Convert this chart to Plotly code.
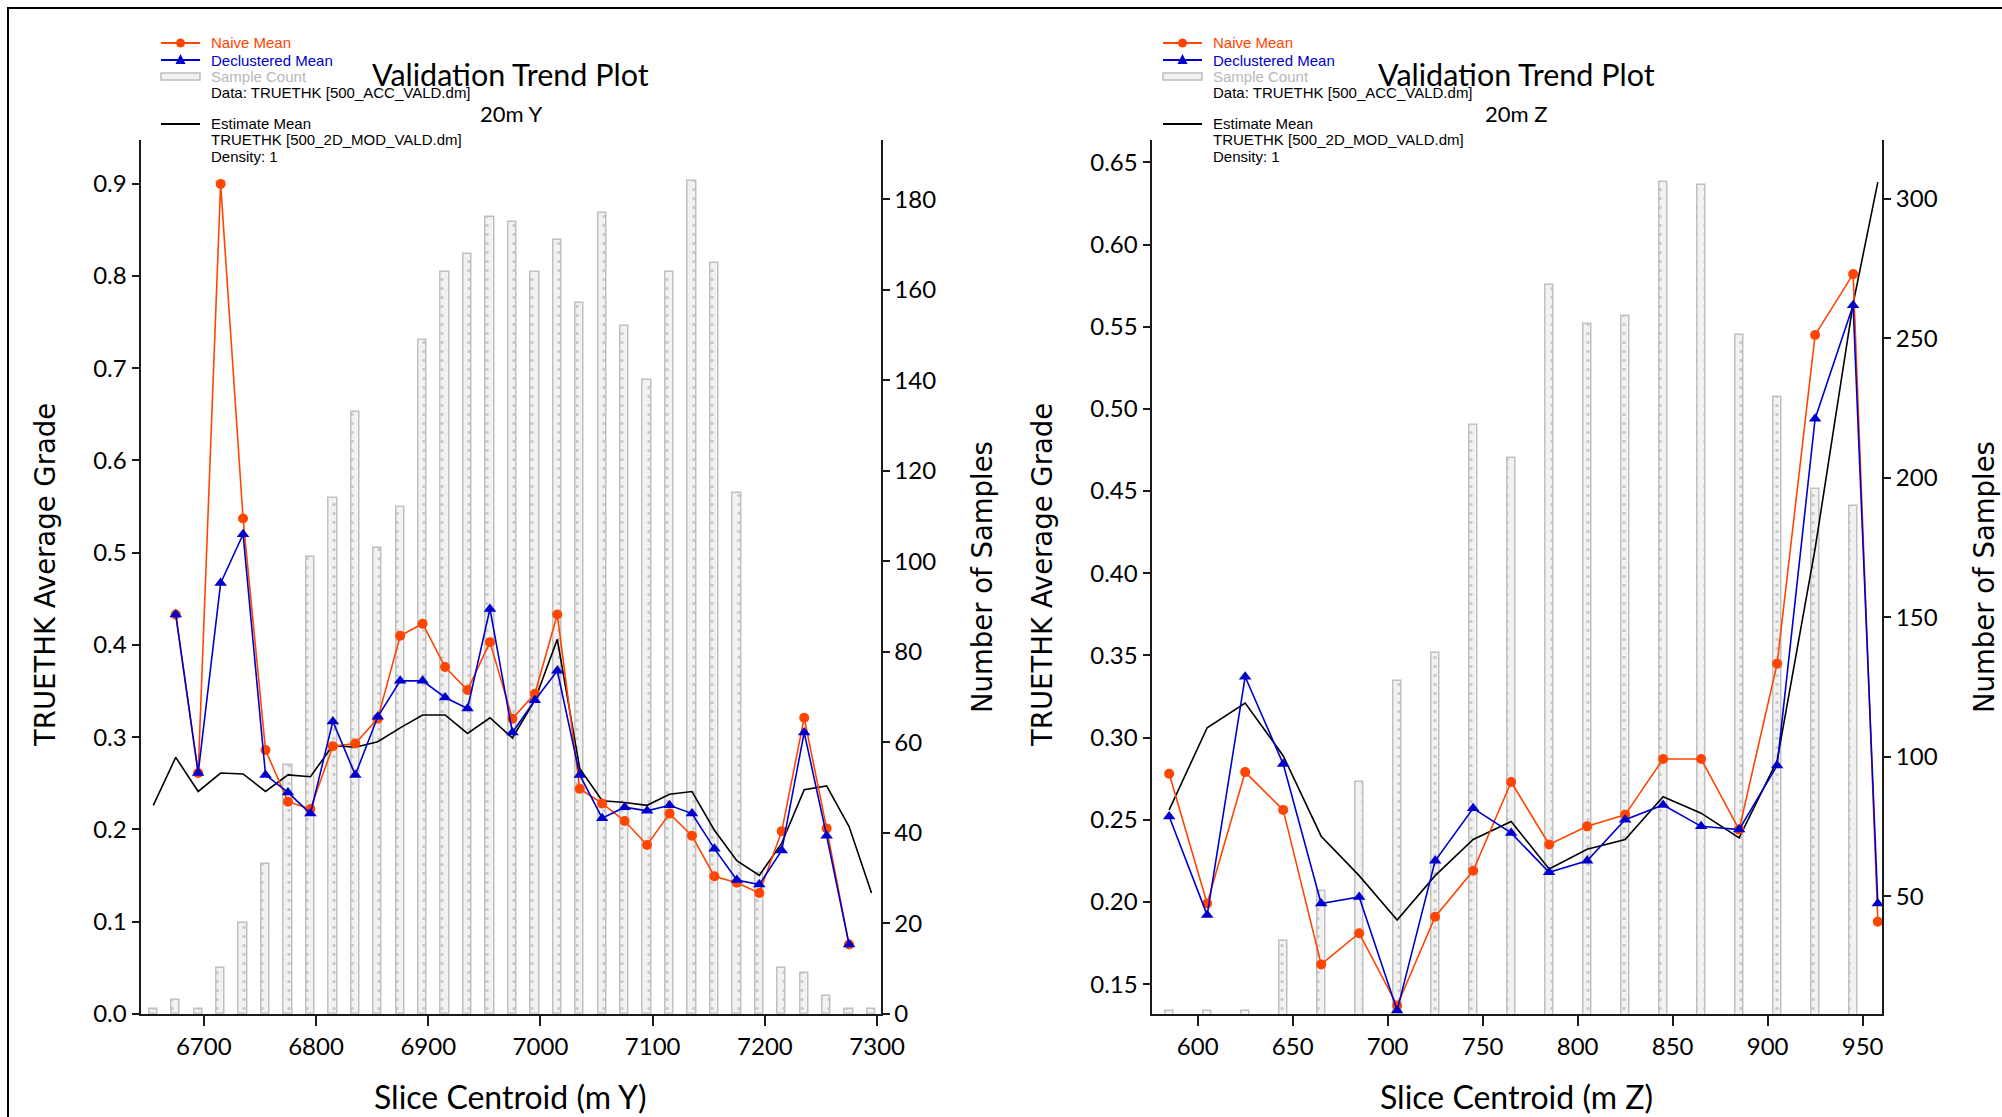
import plotly.graph_objects as go

W, H = 2002, 1117

# ---------------- data: left panel (20m Y slices) ----------------
y_bar_centroids = [6655, 6675, 6695, 6715, 6735, 6755, 6775, 6795, 6815, 6835, 6855,
                   6875, 6895, 6915, 6935, 6955, 6975, 6995, 7015, 7035, 7055, 7075,
                   7095, 7115, 7135, 7155, 7175, 7195, 7215, 7235, 7255, 7275, 7295]
y_sample_count = [1, 3, 1, 10, 20, 33, 55, 101, 114, 133, 103,
                  112, 149, 164, 168, 176, 175, 164, 171, 157, 177, 152,
                  140, 164, 184, 166, 115, 31, 10, 9, 4, 1, 1]
y_estimate_mean = [0.226, 0.278, 0.241, 0.261, 0.260, 0.241, 0.259, 0.257, 0.291, 0.289, 0.295,
                   0.310, 0.324, 0.324, 0.304, 0.321, 0.299, 0.340, 0.406, 0.266, 0.231, 0.229,
                   0.226, 0.238, 0.241, 0.199, 0.166, 0.150, 0.185, 0.243, 0.247, 0.203, 0.131]
y_pt_centroids = [6675, 6695, 6715, 6735, 6755, 6775, 6795, 6815, 6835, 6855,
                  6875, 6895, 6915, 6935, 6955, 6975, 6995, 7015, 7035, 7055, 7075,
                  7095, 7115, 7135, 7155, 7175, 7195, 7215, 7235, 7255, 7275]
y_naive_mean = [0.433, 0.261, 0.900, 0.537, 0.286, 0.230, 0.222, 0.290, 0.293, 0.320,
                0.410, 0.423, 0.376, 0.351, 0.403, 0.320, 0.347, 0.433, 0.244, 0.228, 0.209,
                0.183, 0.217, 0.193, 0.149, 0.142, 0.131, 0.198, 0.321, 0.201, 0.075]
y_declust_mean = [0.433, 0.261, 0.467, 0.520, 0.259, 0.240, 0.217, 0.317, 0.259, 0.322,
                  0.361, 0.361, 0.343, 0.331, 0.439, 0.305, 0.340, 0.372, 0.259, 0.212, 0.224,
                  0.220, 0.226, 0.217, 0.179, 0.145, 0.140, 0.177, 0.305, 0.193, 0.075]

# ---------------- data: right panel (20m Z slices) ----------------
z_bar_centroids = [585, 605, 625, 645, 665, 685, 705, 725, 745, 765,
                   785, 805, 825, 845, 865, 885, 905, 925, 945]
z_sample_count = [9, 9, 9, 34, 52, 91, 127, 137, 219, 207,
                  269, 255, 258, 306, 305, 251, 229, 196, 190]
z_pt_centroids = [585, 605, 625, 645, 665, 685, 705, 725, 745, 765,
                  785, 805, 825, 845, 865, 885, 905, 925, 945, 958]
z_naive_mean = [0.278, 0.199, 0.279, 0.256, 0.162, 0.181, 0.137, 0.191, 0.219, 0.273,
                0.235, 0.246, 0.253, 0.287, 0.287, 0.244, 0.345, 0.545, 0.582, 0.188]
z_declust_mean = [0.252, 0.192, 0.337, 0.284, 0.199, 0.203, 0.134, 0.225, 0.257, 0.242,
                  0.218, 0.225, 0.250, 0.259, 0.246, 0.244, 0.283, 0.494, 0.563, 0.199]
z_estimate_mean = [0.256, 0.306, 0.321, 0.289, 0.240, 0.216, 0.189, 0.216, 0.238, 0.249,
                   0.220, 0.232, 0.238, 0.264, 0.254, 0.239, 0.286, 0.415, 0.564, 0.638]

# tick labels
y_xticks = [6700, 6800, 6900, 7000, 7100, 7200, 7300]
z_xticks = [600, 650, 700, 750, 800, 850, 900, 950]
y_grade_ticks = [0.0, 0.1, 0.2, 0.3, 0.4, 0.5, 0.6, 0.7, 0.8, 0.9]
z_grade_ticks = [0.15, 0.20, 0.25, 0.30, 0.35, 0.40, 0.45, 0.50, 0.55, 0.60, 0.65]
y_count_ticks = [0, 20, 40, 60, 80, 100, 120, 140, 160, 180]
z_count_ticks = [50, 100, 150, 200, 250, 300]

# ---------------- styling ----------------
ORANGE = "#FF4500"
BLUE = "#0000CD"
BAR_FILL = "#f2f2f2"
BAR_LINE = "#c0c0c0"
AXIS_COL = "#1a1a1a"
TICK_FONT = dict(family="Lato, Open Sans, sans-serif", size=24, color="black")
LEG_FONT = "Liberation Sans, Arial, sans-serif"


def X(px):
    return px / W


def Y(py):
    return 1 - py / H


fig = go.Figure()


def add_panel(xa, yc, yg, bar_x, bar_y, bar_w, pt_x, naive, decl, est_x, est):
    fig.add_trace(go.Bar(
        x=bar_x, y=bar_y, width=bar_w, xaxis=xa, yaxis=yc,
        marker=dict(color=BAR_FILL, line=dict(color=BAR_LINE, width=1.5),
                    pattern=dict(shape=".", fgcolor="#a0a0a0", size=9, solidity=0.12,
                                 fillmode="overlay")),
        showlegend=False, hoverinfo="skip"))
    fig.add_trace(go.Scatter(
        x=est_x, y=est, xaxis=xa, yaxis=yg, mode="lines",
        line=dict(color="black", width=1.6), showlegend=False))
    fig.add_trace(go.Scatter(
        x=pt_x, y=naive, xaxis=xa, yaxis=yg, mode="lines+markers",
        line=dict(color=ORANGE, width=1.6),
        marker=dict(symbol="circle", size=10, color=ORANGE), showlegend=False))
    fig.add_trace(go.Scatter(
        x=pt_x, y=decl, xaxis=xa, yaxis=yg, mode="lines+markers",
        line=dict(color=BLUE, width=1.6),
        marker=dict(symbol="triangle-up", size=11, color=BLUE), showlegend=False))


add_panel("x", "y", "y2", y_bar_centroids, y_sample_count, 7.4,
          y_pt_centroids, y_naive_mean, y_declust_mean, y_bar_centroids, y_estimate_mean)
add_panel("x2", "y3", "y4", z_bar_centroids, z_sample_count, 4.2,
          z_pt_centroids, z_naive_mean, z_declust_mean, z_pt_centroids, z_estimate_mean)

# panel geometry (pixels)
L1, R1 = 140.5, 880.5
L2, R2 = 1151.5, 1882
TOP, BOT = 140, 1013.7
ydom = [Y(BOT), Y(TOP)]

axis_common = dict(showline=True, linecolor=AXIS_COL, linewidth=2, ticks="outside",
                   tickcolor=AXIS_COL, tickwidth=1.5, showgrid=False, zeroline=False,
                   tickfont=TICK_FONT, automargin=False)

fig.update_layout(
    template="none",
    width=W, height=H, autosize=False, margin=dict(l=0, r=0, t=0, b=0, pad=0),
    paper_bgcolor="white", plot_bgcolor="rgba(0,0,0,0)",
    bargap=0, barmode="overlay", showlegend=False,
    xaxis=dict(domain=[X(L1), X(R1)], range=[6643.6, 7303], anchor="y",
               tickvals=y_xticks, ticklen=10, **axis_common),
    yaxis=dict(domain=ydom, range=[0, 193.1], anchor="x", side="right",
               tickvals=y_count_ticks, ticklen=7, **axis_common),
    yaxis2=dict(range=[0, 0.9476], anchor="x", overlaying="y", side="left",
                tickvals=y_grade_ticks, tickformat=".1f", ticklen=7, **axis_common),
    xaxis2=dict(domain=[X(L2), X(R2)], range=[575.7, 960.2], anchor="y3",
                tickvals=z_xticks, ticklen=10, **axis_common),
    yaxis3=dict(domain=ydom, range=[7.9, 321], anchor="x2", side="right",
                tickvals=z_count_ticks, ticklen=7, **axis_common),
    yaxis4=dict(range=[0.132, 0.6636], anchor="x2", overlaying="y3", side="left",
                tickvals=z_grade_ticks, tickformat=".2f", ticklen=7, **axis_common),
)

ann = []
shapes = []

TITLE_FONT = dict(family="Lato, Open Sans, sans-serif", size=30.5, color="black")
SUB_FONT = dict(family="Lato, Open Sans, sans-serif", size=22, color="black")
XT_FONT = dict(family="Lato, Open Sans, sans-serif", size=32, color="black")
YT_FONT = dict(family="DejaVu Sans, Verdana, sans-serif", size=27.5, color="black")

panels = [
    dict(L=L1, R=R1, sub="20m Y", xt="Slice Centroid (m Y)", ytx=45, y2tx=982, leg=161),
    dict(L=L2, R=R2, sub="20m Z", xt="Slice Centroid (m Z)", ytx=1042, y2tx=1984, leg=1163),
]
for p in panels:
    cx = (p["L"] + p["R"]) / 2
    ann.append(dict(x=X(cx), y=Y(74), xref="paper", yref="paper", text="Validation Trend Plot",
                    showarrow=False, xanchor="center", yanchor="middle", font=TITLE_FONT))
    ann.append(dict(x=X(cx), y=Y(113), xref="paper", yref="paper", text=p["sub"],
                    showarrow=False, xanchor="center", yanchor="middle", font=SUB_FONT))
    ann.append(dict(x=X(cx), y=Y(1096), xref="paper", yref="paper", text=p["xt"],
                    showarrow=False, xanchor="center", yanchor="middle", font=XT_FONT))
    ann.append(dict(x=X(p["ytx"]), y=Y(575), xref="paper", yref="paper",
                    text="TRUETHK Average Grade", textangle=-90,
                    showarrow=False, xanchor="center", yanchor="middle", font=YT_FONT))
    ann.append(dict(x=X(p["y2tx"]), y=Y(577), xref="paper", yref="paper",
                    text="Number of Samples", textangle=-90,
                    showarrow=False, xanchor="center", yanchor="middle", font=YT_FONT))

    s0 = p["leg"]
    s1 = s0 + 39
    sm = (s0 + s1) / 2
    tx = s1 + 9
    rows = [
        (43, "Naive Mean", ORANGE),
        (60, "Declustered Mean", BLUE),
        (76, "Sample Count", "#b8b8b8"),
        (92, "Data: TRUETHK [500_ACC_VALD.dm]", "black"),
        (124, "Estimate Mean", "black"),
        (140, "TRUETHK [500_2D_MOD_VALD.dm]", "black"),
        (156, "Density: 1", "black"),
    ]
    for ry, txt, col in rows:
        ann.append(dict(x=X(tx), y=Y(ry), xref="paper", yref="paper", text=txt,
                        showarrow=False, xanchor="left", yanchor="middle",
                        font=dict(family=LEG_FONT, size=15, color=col)))
    shapes.append(dict(type="line", xref="paper", yref="paper", x0=X(s0), x1=X(s1),
                       y0=Y(43), y1=Y(43), line=dict(color=ORANGE, width=2)))
    shapes.append(dict(type="circle", xref="paper", yref="paper", x0=X(sm - 4.5), x1=X(sm + 4.5),
                       y0=Y(43 - 4.5), y1=Y(43 + 4.5), fillcolor=ORANGE, line=dict(width=0)))
    shapes.append(dict(type="line", xref="paper", yref="paper", x0=X(s0), x1=X(s1),
                       y0=Y(60), y1=Y(60), line=dict(color=BLUE, width=2)))
    shapes.append(dict(type="path", xref="paper", yref="paper",
                       path=f"M {X(sm-5)} {Y(64)} L {X(sm+5)} {Y(64)} L {X(sm)} {Y(54)} Z",
                       fillcolor=BLUE, line=dict(width=0)))
    shapes.append(dict(type="rect", xref="paper", yref="paper", x0=X(s0), x1=X(s1),
                       y0=Y(73), y1=Y(80), fillcolor=BAR_FILL, line=dict(color="#bdbdbd", width=1.5)))
    shapes.append(dict(type="line", xref="paper", yref="paper", x0=X(s0), x1=X(s1),
                       y0=Y(124), y1=Y(124), line=dict(color="black", width=2)))

shapes.append(dict(type="rect", xref="paper", yref="paper", x0=X(8), x1=1.02,
                   y0=-0.02, y1=Y(8), line=dict(color="black", width=2), fillcolor="rgba(0,0,0,0)"))

fig.update_layout(annotations=ann, shapes=shapes)

fig.write_html("out.html", config={"displayModeBar": False, "responsive": False},
               post_script="document.body.style.margin='0';")
